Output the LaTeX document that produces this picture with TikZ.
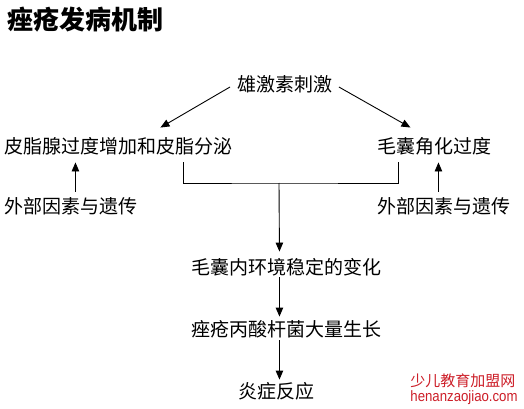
\documentclass[tikz,border=0pt]{standalone}
\usepackage{fontspec}
\newfontfamily\cjk{Noto Sans CJK SC}
\newfontfamily\wmfont[FakeStretch=0.88]{Liberation Sans}
\usetikzlibrary{arrows.meta,positioning}
\definecolor{wmred}{RGB}{205,30,40}

\begin{document}
\begin{tikzpicture}[x=1pt, y=-1pt, >={Triangle[length=9pt,width=7.5pt]}, line width=0.9pt,
  every node/.style={inner sep=0pt, text height=16pt, text depth=3pt, font=\cjk\fontsize{19}{19}\selectfont},
  lbl/.style={anchor=west}]
  \fill[white] (0,0) rectangle (524,409);
  \useasboundingbox (0,0) rectangle (524,409);
  \node[lbl, font=\cjk\bfseries\fontsize{26}{26}\selectfont, text height=22pt, text depth=4pt] (title) at (7,21) {痤疮发病机制};
  \node[lbl] (male) at (237.5,85) {雄激素刺激};
  \node[lbl] (sebum) at (4,147) {皮脂腺过度增加和皮脂分泌};
  \node[lbl] (kera) at (377,147) {毛囊角化过度};
  \node[lbl] (extl) at (4,207) {外部因素与遗传};
  \node[lbl] (extr) at (377,207) {外部因素与遗传};
  \node[lbl] (homeo) at (191,268) {毛囊内环境稳定的变化};
  \node[lbl] (growth) at (191,330) {痤疮丙酸杆菌大量生长};
  \node[lbl] (inflam) at (238,392) {炎症反应};
  \node[lbl, font=\cjk\fontsize{15}{15}\selectfont, text=wmred, text height=12pt] (wm) at (410,382) {少儿教育加盟网};
  \node[lbl, font=\wmfont\fontsize{15}{15}\selectfont, text=wmred, text height=11pt] (wmurl) at (410,397) {henanzaojiao.com};
  \coordinate (join) at (279,183);
  \draw[->] ([xshift=-7.5pt,yshift=-2pt]male.west) -- ([xshift=42pt,yshift=9.5pt]sebum.north);
  \draw[->] ([xshift=5.5pt,yshift=-2pt]male.east) -- ([xshift=-24pt,yshift=9.5pt]kera.north);
  \draw[->] ([xshift=4.5pt,yshift=5.5pt]extl.north) -- ([xshift=-43pt,yshift=-5.5pt]sebum.south);
  \draw[->] ([xshift=-5.5pt,yshift=5.5pt]extr.north) -- ([xshift=4pt,yshift=-5.5pt]kera.south);
  \draw ([xshift=65pt,yshift=-5.5pt]sebum.south) |- (join) -| ([xshift=-36pt,yshift=-5.5pt]kera.south);
  \draw[->] (join) -- ([xshift=-7pt,yshift=6.5pt]homeo.north);
  \draw[->] ([xshift=-7pt,yshift=0.5pt]homeo.south) -- ([xshift=-7pt,yshift=3.5pt]growth.north);
  \draw[->] ([xshift=-7pt,yshift=-0.5pt]growth.south) -- ([xshift=3pt,yshift=2.5pt]inflam.north);
\end{tikzpicture}
\end{document}
